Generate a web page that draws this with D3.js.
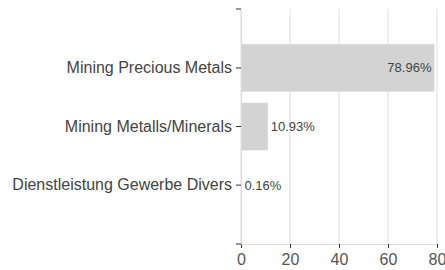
<!DOCTYPE html>
<html>
<head>
<meta charset="utf-8">
<script src="https://cdn.jsdelivr.net/npm/d3@7"></script>
<style>
  body { margin: 0; background: #fff; }
  svg { display: block; font-family: Arial, "Liberation Sans", sans-serif; }
</style>
</head>
<body>
<svg id="chart"></svg>
<script>
const categories = ["Mining Precious Metals", "Mining Metalls/Minerals", "Dienstleistung Gewerbe Divers"];
const values = [78.96, 10.93, 0.16];
const xTicks = [0, 20, 40, 60, 80];

const width = 445, height = 270;
const margin = {top: 9, right: 8, bottom: 26, left: 241};
const w = width - margin.left - margin.right;
const h = height - margin.top - margin.bottom;

const svg = d3.select("#chart")
    .attr("width", width)
    .attr("height", height);

const g = svg.append("g")
    .attr("transform", `translate(${margin.left},${margin.top})`);

const x = d3.scaleLinear().domain([0, 80]).range([0, w]);
const y = d3.scaleBand().domain(categories).range([0, h])
    .paddingInner(0.19).paddingOuter(0.6);

// grid
g.append("g")
    .selectAll("line")
    .data(xTicks)
    .join("line")
    .attr("x1", d => x(d)).attr("x2", d => x(d))
    .attr("y1", 0).attr("y2", h)
    .attr("stroke", "#ddd");

// bars
g.append("g")
    .selectAll("rect")
    .data(values)
    .join("rect")
    .attr("x", 0)
    .attr("y", (d, i) => y(categories[i]))
    .attr("width", d => x(d))
    .attr("height", y.bandwidth())
    .attr("fill", "#d3d3d3");

// value labels
g.append("g")
    .selectAll("text")
    .data(values)
    .join("text")
    .attr("x", d => d > 40 ? x(d) - 3 : x(d) + 3)
    .attr("y", (d, i) => y(categories[i]) + y.bandwidth() / 2)
    .attr("dy", "0.35em")
    .attr("text-anchor", d => d > 40 ? "end" : "start")
    .attr("font-size", 13)
    .attr("fill", "#444")
    .text(d => d.toFixed(2) + "%");

// x axis
const xAxis = g.append("g")
    .attr("transform", `translate(0,${h})`)
    .call(d3.axisBottom(x).tickValues(xTicks).tickSize(4).tickSizeOuter(0));
xAxis.select(".domain").attr("stroke", "#ddd");
xAxis.selectAll(".tick line").attr("stroke", "#333");
xAxis.selectAll(".tick text")
    .attr("font-size", 16)
    .attr("fill", "#555")
    .attr("dy", "0.9em");

// y axis
const yAxis = g.append("g")
    .call(d3.axisLeft(y).tickSize(5).tickSizeOuter(0));
yAxis.select(".domain").attr("stroke", "#ddd");
yAxis.selectAll(".tick line").attr("stroke", "#333");
yAxis.selectAll(".tick text")
    .attr("font-size", 16)
    .attr("fill", "#444")
    .attr("x", -9);

// outer end ticks on the y axis
g.append("g")
    .selectAll("line")
    .data([0, h])
    .join("line")
    .attr("x1", -5).attr("x2", 0)
    .attr("y1", d => d).attr("y2", d => d)
    .attr("stroke", "#333");
</script>
</body>
</html>
